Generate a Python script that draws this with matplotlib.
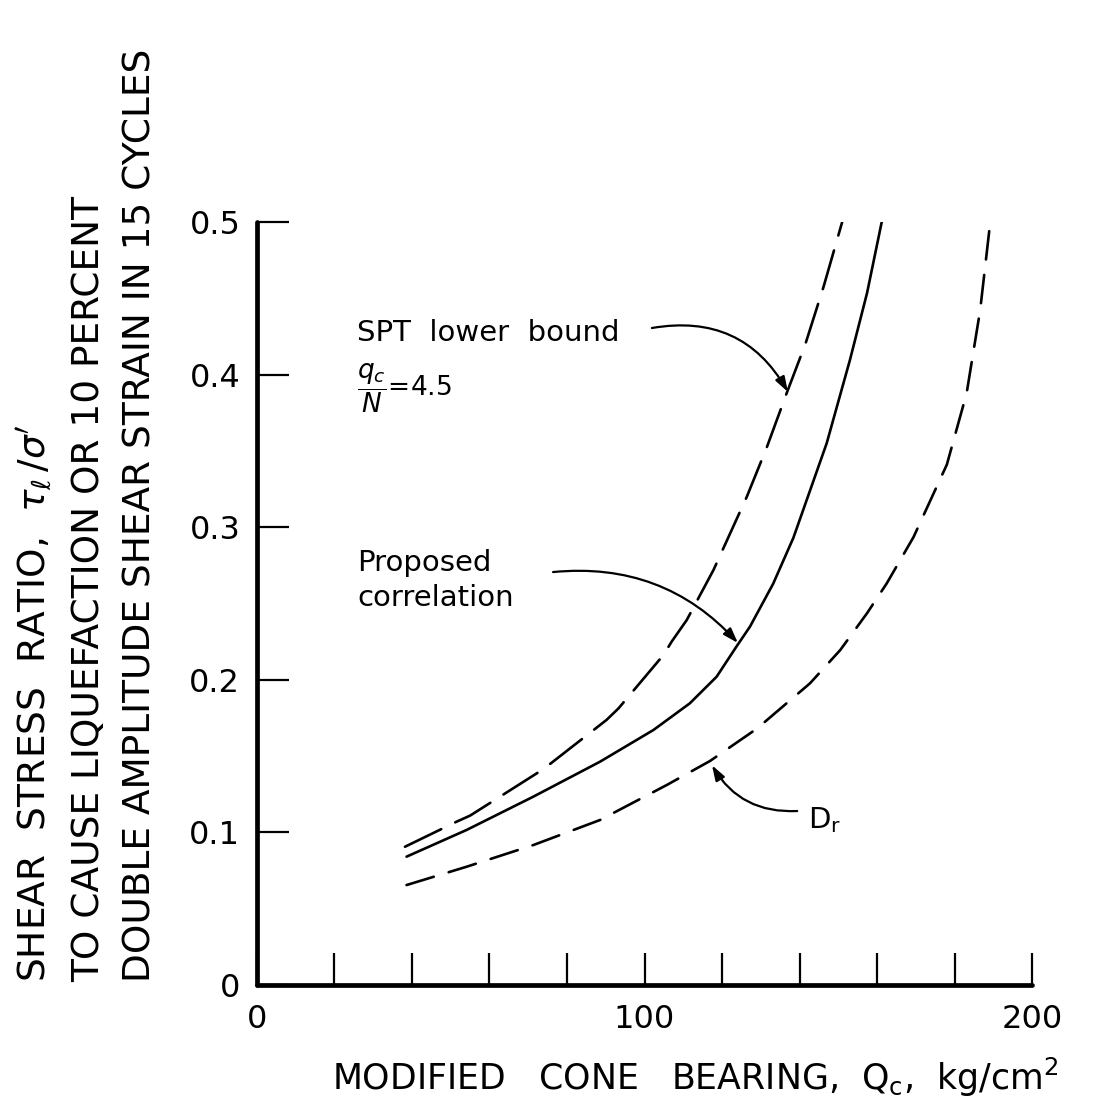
import matplotlib.pyplot as plt

qc_spt = [38.2, 51.5, 55.0, 72.2, 75.2, 90.2, 93.3, 104.9, 107.0, 110.9, 117.8, 126.4, 131.5, 136.7,
          141.5, 146.2, 151.0]
ratio_spt = [0.0906, 0.107, 0.111, 0.1387, 0.144, 0.1737, 0.1813, 0.2163, 0.225, 0.2392, 0.272, 0.320,
             0.352, 0.388, 0.420, 0.4576, 0.500]

qc_prop = [38.6, 54.1, 71.3, 88.5, 102.3, 111.7, 118.6, 123.7, 127.2, 133.2, 138.4, 147.0, 153.0, 157.4, 161.2]
ratio_prop = [0.0841, 0.1016, 0.1234, 0.1463, 0.1671, 0.1846, 0.202, 0.2217, 0.2348, 0.263, 0.293, 0.355,
              0.4096, 0.4533, 0.500]

qc_dr = [38.6, 54.1, 71.3, 88.5, 105.7, 116.9, 129.0, 142.7, 150.5, 157.4, 162.5, 169.4, 178.0, 183.1,
         186.6, 189.2]
ratio_dr = [0.0655, 0.0775, 0.0917, 0.1081, 0.131, 0.1468, 0.168, 0.1977, 0.2195, 0.2436, 0.2632, 0.2935,
            0.341, 0.3877, 0.4423, 0.500]

x_ticks = list(range(0, 201, 20))
x_ticklabels = ['0', '', '', '', '', '100', '', '', '', '', '200']
y_ticks = [0, 0.1, 0.2, 0.3, 0.4, 0.5]
y_ticklabels = ['0', '0.1', '0.2', '0.3', '0.4', '0.5']

plt.rcParams['lines.scale_dashes'] = False
plt.rcParams['mathtext.fontset'] = 'dejavusans'

fig = plt.figure(figsize=(10.98, 11.07), dpi=100)
ax = fig.add_axes([0.234, 0.1102, 0.706, 0.6893])

lw = 1.9
ax.plot(qc_spt, ratio_spt, color='black', lw=lw, dashes=(29, 11.2), dash_capstyle='round')
ax.plot(qc_prop, ratio_prop, color='black', lw=lw, solid_capstyle='round', solid_joinstyle='round')
ax.plot(qc_dr, ratio_dr, color='black', lw=lw, dashes=(20.5, 11.2), dash_capstyle='round')

ax.set_xlim(0, 200)
ax.set_ylim(0, 0.5)
ax.set_xticks(x_ticks)
ax.set_xticklabels(x_ticklabels)
ax.set_yticks(y_ticks)
ax.set_yticklabels(y_ticklabels)
ax.tick_params(axis='both', direction='in', length=23, width=1.6, labelsize=23)
ax.tick_params(axis='x', pad=14)
ax.tick_params(axis='y', pad=12)

for side in ['top', 'right']:
    ax.spines[side].set_visible(False)
for side in ['left', 'bottom']:
    ax.spines[side].set_linewidth(3.4)
    ax.spines[side].set_capstyle('round')

# labels on the curves
arrow = dict(arrowstyle='-|>,head_length=0.9,head_width=0.3', color='black', lw=1.6,
             shrinkA=0, shrinkB=0)
ax.text(25.8, 0.4273, 'SPT  lower  bound', fontsize=21, va='center', ha='left')
ax.annotate('', xy=(137.0, 0.3886), xytext=(101.9, 0.4305),
            arrowprops=dict(arrow, connectionstyle='arc3,rad=-0.35'))
ax.text(25.8, 0.391, r'$\dfrac{q_c}{N}$=4.5', fontsize=19, va='center', ha='left')

ax.text(25.8, 0.2765, 'Proposed', fontsize=21, va='center', ha='left')
ax.text(25.8, 0.2536, 'correlation', fontsize=21, va='center', ha='left')
ax.annotate('', xy=(124.1, 0.2241), xytext=(76.4, 0.2706),
            arrowprops=dict(arrow, connectionstyle='arc3,rad=-0.25'))

ax.text(142.2, 0.108, r'D$_\mathregular{r}$', fontsize=21, va='center', ha='left')
ax.annotate('', xy=(117.4, 0.144), xytext=(139.4, 0.114),
            arrowprops=dict(arrow, connectionstyle='arc3,rad=-0.3'))

ax.set_xlabel(r'MODIFIED   CONE   BEARING,  Q$_\mathregular{c}$,  kg/cm$^\mathregular{2}$',
              fontsize=25)
ax.xaxis.set_label_coords(0.565, -0.093)

y_lines = [r"SHEAR  STRESS  RATIO,  $\tau_\ell\,/\sigma'$",
           'TO CAUSE LIQUEFACTION OR 10 PERCENT',
           'DOUBLE AMPLITUDE SHEAR STRAIN IN 15 CYCLES']
for xpos, line in zip([0.031, 0.081, 0.128], y_lines):
    fig.text(xpos, 0.113, line, rotation=90, ha='center', va='bottom', fontsize=27)

fig.savefig('out.png', dpi=100)
